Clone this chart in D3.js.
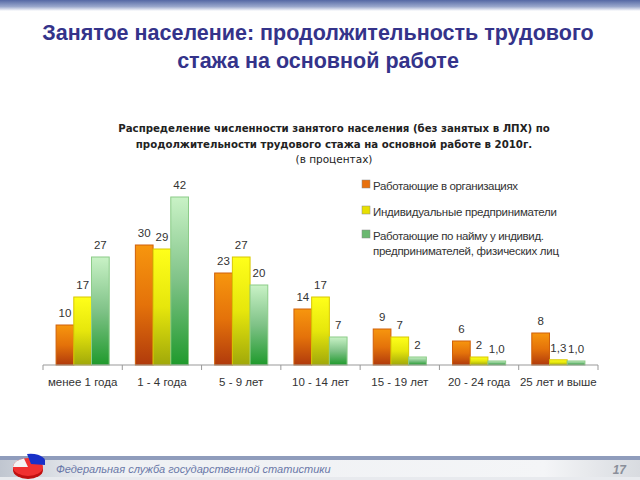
<!DOCTYPE html>
<html><head><meta charset="utf-8">
<script src="https://cdn.jsdelivr.net/npm/d3@7"></script>
<style>body{margin:0;background:#fff}svg{display:block}</style>
</head><body>
<svg id="c" width="640" height="480"></svg>
<script>
const categories = ["менее 1 года","1 - 4 года","5 - 9 лет","10 - 14 лет","15 - 19 лет","20 - 24 года","25 лет и выше"];
const seriesNames = ["Работающие в организациях","Индивидуальные предприниматели","Работающие по найму у индивид. предпринимателей, физических лиц"];
const orgValues = [10,30,23,14,9,6,8];
const ipValues = [17,29,27,17,7,2,1.3];
const hiredValues = [27,42,20,7,2,1.0,1.0];
const valueLabels = [
  ["10","30","23","14","9","6","8"],
  ["17","29","27","17","7","2","1,3"],
  ["27","42","20","7","2","1,0","1,0"]
];
const series = [orgValues, ipValues, hiredValues];

const svg = d3.select("#c");
const defs = svg.append("defs");
function lg(id, stops, vertical=true){
  const g = defs.append("linearGradient").attr("id",id)
    .attr("x1",0).attr("y1",0).attr("x2",vertical?0:1).attr("y2",vertical?1:0);
  stops.forEach(s=>g.append("stop").attr("offset",s[0]).attr("stop-color",s[1]));
}
lg("gTop",[[0,"#5468a4"],[0.6,"#9aa8cc"],[1,"#ffffff"]]);
lg("g0",[[0,"#f7960e"],[0.5,"#e4720a"],[1,"#b03a0c"]]);
lg("g1",[[0,"#ffff1a"],[0.5,"#e6e60c"],[1,"#a0a80a"]]);
lg("g2",[[0,"#c9f2c6"],[0.5,"#7fc287"],[1,"#1f9a2c"]]);
lg("gFootH",[[0,"#c0c6d0"],[0.15,"#eef0f3"],[0.85,"#f4f5f7"],[1,"#d8dbe0"]], false);
const fills = ["url(#g0)","url(#g1)","url(#g2)"];
const strokes = ["#d0600a","#d8c800","#8ccc88"];
const legFill = ["#e8700c","#e8e000","#6ab870"];

// top band
svg.append("rect").attr("x",0).attr("y",0).attr("width",640).attr("height",11).attr("fill","url(#gTop)");

// main title
const tf = "'Liberation Sans', Arial, sans-serif";
svg.append("text").attr("x",318).attr("y",40).attr("text-anchor","middle")
  .attr("font-family",tf).attr("font-size",21.5).attr("font-weight","bold").attr("fill","#34338a")
  .text("Занятое население: продолжительность трудового");
svg.append("text").attr("x",318).attr("y",68).attr("text-anchor","middle")
  .attr("font-family",tf).attr("font-size",21.5).attr("font-weight","bold").attr("fill","#34338a")
  .text("стажа на основной работе");

// chart title
const cf = "'DejaVu Sans', Verdana, sans-serif";
const ct = svg.append("g").attr("font-family",cf).attr("fill","#222").attr("text-anchor","middle");
ct.append("text").attr("x",334).attr("y",132).attr("font-size",10.2).attr("font-weight","bold")
  .text("Распределение численности занятого населения (без занятых в ЛПХ) по");
ct.append("text").attr("x",334).attr("y",148).attr("font-size",10.2).attr("font-weight","bold")
  .text("продолжительности трудового стажа на основной работе  в  2010г.");
ct.append("text").attr("x",334).attr("y",163).attr("font-size",10.5)
  .text("(в процентах)");

// scales
const x0 = d3.scaleBand().domain(categories).range([43,598]).paddingInner(0.33).paddingOuter(0.165);
const x1 = d3.scaleBand().domain([0,1,2]).range([0,x0.bandwidth()]);
const y = d3.scaleLinear().domain([0,45]).range([365,185]);

const gBars = svg.append("g");
series.forEach((vals,si)=>{
  gBars.selectAll(".b"+si).data(vals).join("rect")
    .attr("x",(d,i)=>x0(categories[i])+x1(si))
    .attr("y",d=>y(d))
    .attr("width",x1.bandwidth())
    .attr("height",d=>y(0)-y(d))
    .attr("fill",fills[si]).attr("stroke",strokes[si]).attr("stroke-width",1);
  gBars.selectAll(".l"+si).data(vals).join("text")
    .attr("x",(d,i)=>x0(categories[i])+x1(si)+x1.bandwidth()/2)
    .attr("y",d=>y(d)-8)
    .attr("text-anchor","middle").attr("font-family",tf).attr("font-size",11.5).attr("fill","#333")
    .text((d,i)=>valueLabels[si][i]);
});

// axis
const ax = svg.append("g").attr("transform","translate(0,365)");
ax.append("line").attr("x1",43).attr("x2",598).attr("stroke","#999");
d3.range(categories.length+1).forEach(i=>{
  const xx = 43 + i*(555/categories.length);
  ax.append("line").attr("x1",xx).attr("x2",xx).attr("y1",0).attr("y2",5).attr("stroke","#999");
});
ax.selectAll(".cl").data(categories).join("text")
  .attr("x",d=>x0(d)+x0.bandwidth()/2).attr("y",21)
  .attr("text-anchor","middle").attr("font-family",tf).attr("font-size",11.5).attr("fill","#333")
  .text(d=>d);

// legend
const lg2 = svg.append("g").attr("font-family",tf).attr("font-size",11.5).attr("fill","#333");
const legY = [186,212,236];
seriesNames.forEach((n,i)=>{
  lg2.append("rect").attr("x",362).attr("y",legY[i]-6).attr("width",8).attr("height",8)
    .attr("fill",legFill[i]).attr("stroke","#888").attr("stroke-width",0.5);
});
const legLines = [
  ["Работающие в организациях", legY[0]+4, 145],
  ["Индивидуальные предприниматели", legY[1]+4, 184],
  ["Работающие по найму у индивид.", legY[2]+4, 171],
  ["предпринимателей, физических лиц", legY[2]+19, 186]
];
legLines.forEach(l=>{
  lg2.append("text").attr("x",373).attr("y",l[1]).attr("textLength",l[2])
    .attr("lengthAdjust","spacing").text(l[0]);
});

// footer
svg.append("rect").attr("x",0).attr("y",456).attr("width",640).attr("height",4).attr("fill","#8f9cbc");
svg.append("rect").attr("x",0).attr("y",460).attr("width",640).attr("height",17).attr("fill","url(#gFootH)");
svg.append("rect").attr("x",0).attr("y",477).attr("width",640).attr("height",3).attr("fill","#e8eaee");
svg.append("text").attr("x",56).attr("y",473).attr("font-family",tf).attr("font-size",11)
  .attr("font-style","italic").attr("fill","#6a78a8").text("Федеральная служба государственной статистики");
svg.append("text").attr("x",626).attr("y",474).attr("text-anchor","end").attr("font-family",tf).attr("font-size",12)
  .attr("font-style","italic").attr("font-weight","bold").attr("fill","#8a8f9a").text("17");

// logo pie
const lgG = svg.append("g").attr("transform","translate(28,467)");
lgG.append("ellipse").attr("cx",0).attr("cy",3).attr("rx",15).attr("ry",9).attr("fill","#c01010");
lgG.append("ellipse").attr("cx",0).attr("cy",0).attr("rx",15).attr("ry",9).attr("fill","#f03030");
lgG.append("path").attr("d","M0,0 L-15,0 A15,9 0 0 1 -4,-8.6 Z").attr("fill","#f4f4f4");
lgG.append("path").attr("d","M3,-3 L-1,-13 A15,9 0 0 1 17,-7 L17,-2 Z").attr("fill","#1830c8");
</script>
</body></html>
